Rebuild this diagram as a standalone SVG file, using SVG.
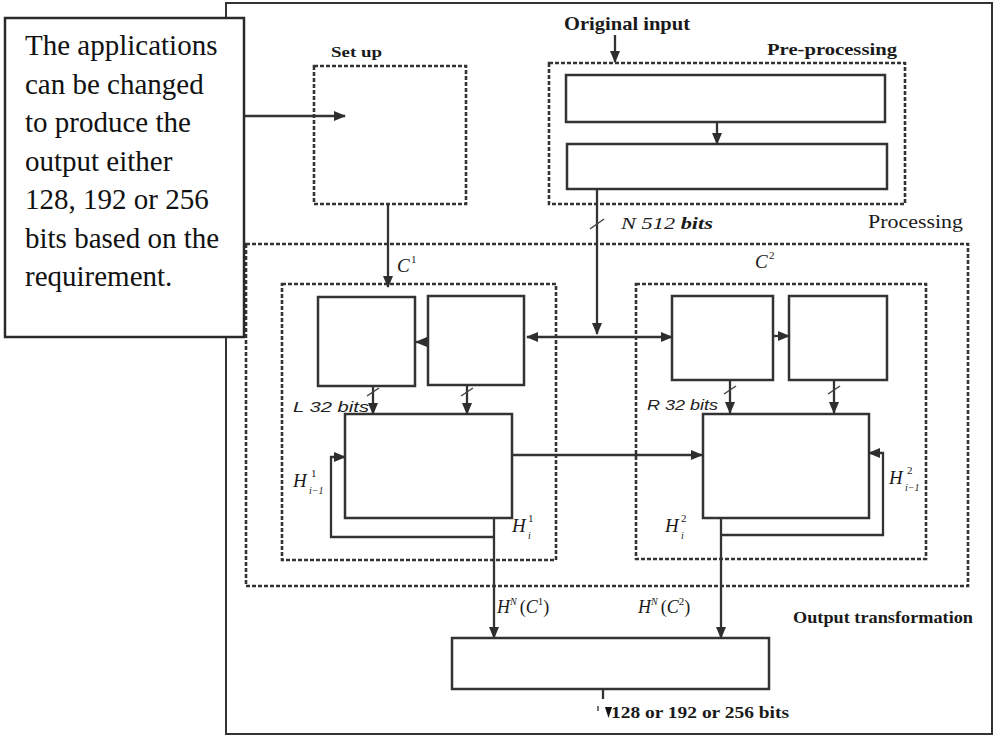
<svg xmlns="http://www.w3.org/2000/svg" width="997" height="737" viewBox="0 0 997 737">
<defs>
<marker id="ah" markerUnits="userSpaceOnUse" markerWidth="12" markerHeight="10" refX="11" refY="5" orient="auto-start-reverse" viewBox="0 0 12 10">
<path d="M0,0 L12,5 L0,10 z" fill="#2e2e2e"/>
</marker>
<style>
.frame{fill:#fff;stroke:#333;stroke-width:2}
.dash{fill:none;stroke:#333;stroke-width:2.6;stroke-dasharray:4 2}
.box{fill:#fff;stroke:#333;stroke-width:2.5}
.ln{fill:none;stroke:#333;stroke-width:2.3}
.arr{fill:none;stroke:#333;stroke-width:2.3;marker-end:url(#ah)}
.tick{fill:none;stroke:#444;stroke-width:1.5}
.call{font-family:"Liberation Serif","Times New Roman",serif;font-size:29px;fill:#111}
.lbl{font-family:"Liberation Serif","Times New Roman",serif;fill:#1a1a1a}
.b{font-weight:bold}
.it{font-style:italic}
.sans{font-family:"Liberation Sans",Arial,sans-serif;font-style:italic;fill:#222}
</style>
</defs>
<rect id="frame" class="frame" x="226" y="3" width="766" height="731"/>

<g id="setup">
<rect class="dash" x="314" y="66" width="152" height="138"/>
<text class="lbl b" x="331" y="57" font-size="15" textLength="51" lengthAdjust="spacingAndGlyphs">Set up</text>
</g>

<g id="preprocessing">
<rect class="dash" x="549" y="63" width="356" height="141"/>
<text class="lbl b" x="767" y="55" font-size="17" textLength="130" lengthAdjust="spacingAndGlyphs">Pre-processing</text>
<text class="lbl b" x="564" y="30" font-size="19" textLength="126" lengthAdjust="spacingAndGlyphs">Original input</text>
</g>
<g id="pre1"><rect class="box" x="566" y="75" width="319" height="47"/></g>
<g id="pre2"><rect class="box" x="567" y="144" width="320" height="45"/></g>

<g id="processing">
<rect class="dash" x="246" y="244" width="722" height="342"/>
<text class="lbl" x="868" y="228" font-size="18" textLength="95" lengthAdjust="spacingAndGlyphs" fill="#333">Processing</text>
</g>

<g id="c1">
<rect class="dash" x="282" y="284" width="274" height="276"/>
<text class="lbl it" x="397" y="272" font-size="19">C</text>
<text class="lbl" x="411" y="263" font-size="11">1</text>
</g>
<g id="c2">
<rect class="dash" x="636" y="284" width="290" height="275"/>
<text class="lbl it" x="755" y="268" font-size="19">C</text>
<text class="lbl" x="769" y="259" font-size="11">2</text>
</g>

<g id="c1b1"><rect class="box" x="318" y="297" width="97" height="89"/></g>
<g id="c1b2"><rect class="box" x="428" y="296" width="96" height="89"/></g>
<g id="c1big"><rect class="box" x="345" y="414" width="167" height="104"/></g>
<g id="c2b1"><rect class="box" x="672" y="296" width="101" height="84"/></g>
<g id="c2b2"><rect class="box" x="789" y="296" width="98" height="84"/></g>
<g id="c2big"><rect class="box" x="703" y="414" width="166" height="104"/></g>

<g id="output">
<rect class="box" x="452" y="638" width="317" height="51"/>
<text class="lbl b" x="793" y="623" font-size="17" textLength="180" lengthAdjust="spacingAndGlyphs">Output transformation</text>
</g>

<g id="connectors">
<path class="arr" d="M244 116 H345"/>
<path class="arr" d="M615 35 V62"/>
<path class="arr" d="M717 122 V144"/>
<path class="arr" d="M597 189 V334"/>
<path class="arr" d="M527 337 H672" marker-start="url(#ah)"/>
<path class="arr" d="M388 204 V287"/>
<path class="arr" d="M428 342 H416"/>
<path class="arr" d="M373 386 V414"/>
<path class="arr" d="M467 385 V414"/>
<path class="arr" d="M512 455 H702"/>
<path class="arr" d="M494 537 H331 V457 H345"/>
<path class="arr" d="M494 518 V638"/>
<path class="arr" d="M773 336 H789"/>
<path class="arr" d="M730 380 V413"/>
<path class="arr" d="M834 380 V413"/>
<path class="arr" d="M721 535 H883 V453 H869"/>
<path class="arr" d="M721 518 V638"/>
<path class="ln" d="M603 689 V699"/>
<path d="M605 707 L612 707 L608.5 718 z" fill="#111"/>
<path class="tick" d="M598 706 V711"/>
<path class="tick" d="M590 229 L604 219"/>
<path class="tick" d="M367 396 L379 388"/>
<path class="tick" d="M461 396 L473 388"/>
<path class="tick" d="M724 394 L736 386"/>
<path class="tick" d="M828 394 L840 386"/>
</g>

<g id="labels">
<text class="lbl it" x="621" y="229" font-size="17" textLength="92" lengthAdjust="spacingAndGlyphs">N 512 <tspan font-weight="bold">bits</tspan></text>
<text class="sans" x="293" y="412" font-size="15" textLength="76" lengthAdjust="spacingAndGlyphs">L 32 bits</text>
<text class="sans" x="647" y="410" font-size="15" textLength="71" lengthAdjust="spacingAndGlyphs">R 32 bits</text>
<text class="lbl it" x="293" y="487" font-size="19">H</text>
<text class="lbl" x="311" y="477" font-size="11">1</text>
<text class="lbl it" x="309" y="494" font-size="10">i−1</text>
<text class="lbl it" x="889" y="484" font-size="19">H</text>
<text class="lbl" x="907" y="474" font-size="11">2</text>
<text class="lbl it" x="905" y="491" font-size="10">i−1</text>
<text class="lbl it" x="512" y="532" font-size="19">H</text>
<text class="lbl" x="528" y="522" font-size="11">1</text>
<text class="lbl it" x="528" y="539" font-size="10">i</text>
<text class="lbl it" x="665" y="532" font-size="19">H</text>
<text class="lbl" x="681" y="522" font-size="11">2</text>
<text class="lbl it" x="681" y="539" font-size="10">i</text>
<text class="lbl" x="497" y="613" font-size="18"><tspan font-style="italic">H</tspan><tspan dy="-8" font-size="10" font-style="italic">N</tspan><tspan dy="8" dx="3">(</tspan><tspan font-style="italic">C</tspan><tspan dy="-8" font-size="11">1</tspan><tspan dy="8">)</tspan></text>
<text class="lbl" x="638" y="613" font-size="18"><tspan font-style="italic">H</tspan><tspan dy="-8" font-size="10" font-style="italic">N</tspan><tspan dy="8" dx="3">(</tspan><tspan font-style="italic">C</tspan><tspan dy="-8" font-size="11">2</tspan><tspan dy="8">)</tspan></text>
<text class="lbl b" x="611" y="718" font-size="17" textLength="178" lengthAdjust="spacingAndGlyphs">128 or 192 or 256 bits</text>
</g>

<g id="callout">
<rect x="5" y="18" width="239" height="319" fill="#fff" stroke="#2a2a2a" stroke-width="2.5"/>
<text class="call" x="25" y="55">The applications</text>
<text class="call" x="25" y="93.5">can be changed</text>
<text class="call" x="25" y="132">to produce the</text>
<text class="call" x="25" y="170.5">output either</text>
<text class="call" x="25" y="209">128, 192 or 256</text>
<text class="call" x="25" y="247.5">bits based on the</text>
<text class="call" x="25" y="286">requirement.</text>
</g>
</svg>
